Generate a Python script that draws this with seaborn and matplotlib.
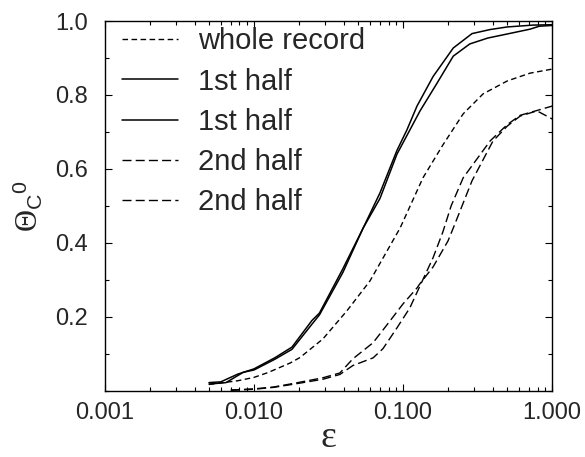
import numpy as np
import pandas as pd
import matplotlib
matplotlib.use("Agg")
import matplotlib.pyplot as plt
from matplotlib.ticker import FixedLocator, FormatStrFormatter, LogLocator, NullFormatter, MultipleLocator
import seaborn as sns

# curve values (eps on log axis, theta_C^0)
whole_eps = [0.005, 0.0078, 0.01, 0.0124, 0.0175, 0.0204, 0.029, 0.042, 0.060, 0.0955,
             0.136, 0.185, 0.253, 0.344, 0.50, 0.71, 1.0]
whole_val = [0.017, 0.027, 0.036, 0.049, 0.075, 0.090, 0.140, 0.216, 0.297, 0.440,
             0.576, 0.665, 0.749, 0.803, 0.838, 0.859, 0.870]

first_a_eps = [0.005, 0.006, 0.0078, 0.01, 0.0138, 0.018, 0.0245, 0.0275, 0.0395, 0.054,
               0.070, 0.091, 0.106, 0.124, 0.159, 0.217, 0.290, 0.384, 0.50, 0.745, 1.0]
first_a_val = [0.022, 0.024, 0.045, 0.059, 0.089, 0.118, 0.190, 0.210, 0.330, 0.440,
               0.535, 0.650, 0.705, 0.770, 0.850, 0.927, 0.966, 0.977, 0.984, 0.989, 0.990]

first_b_eps = [0.005, 0.0065, 0.0085, 0.01, 0.0138, 0.018, 0.0245, 0.0275, 0.0395, 0.054,
               0.070, 0.091, 0.106, 0.13, 0.169, 0.217, 0.28, 0.37, 0.5, 0.71, 0.82, 1.0]
first_b_val = [0.018, 0.022, 0.050, 0.056, 0.085, 0.112, 0.180, 0.205, 0.320, 0.440,
               0.520, 0.640, 0.690, 0.757, 0.832, 0.905, 0.938, 0.954, 0.965, 0.978, 0.986, 0.988]

second_a_eps = [0.007, 0.01, 0.0135, 0.018, 0.029, 0.0377, 0.046, 0.063, 0.0818, 0.1,
                0.124, 0.13, 0.159, 0.2, 0.217, 0.29, 0.40, 0.5, 0.61, 0.79, 1.0]
second_a_val = [0.002, 0.005, 0.010, 0.019, 0.035, 0.048, 0.086, 0.130, 0.189, 0.235,
                0.278, 0.290, 0.335, 0.405, 0.440, 0.568, 0.675, 0.716, 0.743, 0.757, 0.735]

second_b_eps = [0.007, 0.01, 0.0135, 0.018, 0.029, 0.0377, 0.046, 0.063, 0.0734, 0.091,
                0.111, 0.130, 0.159, 0.185, 0.21, 0.253, 0.384, 0.5, 0.61, 0.79, 1.0]
second_b_val = [0.001, 0.004, 0.009, 0.017, 0.031, 0.044, 0.068, 0.089, 0.114, 0.170,
                0.224, 0.284, 0.360, 0.430, 0.500, 0.576, 0.676, 0.720, 0.745, 0.758, 0.770]

sns.set_style("ticks")
plt.rcParams["font.family"] = ["Liberation Sans", "DejaVu Sans"]
plt.rcParams["mathtext.fontset"] = "custom"
plt.rcParams["mathtext.rm"] = "Liberation Serif"
plt.rcParams["mathtext.sf"] = "Liberation Sans"
plt.rcParams["mathtext.it"] = "Liberation Serif:italic"

fig = plt.figure(figsize=(5.85, 4.57), dpi=100)
ax = fig.add_axes([0.179, 0.145, 0.765, 0.809])

short_dash = (4, 2.5)
long_dash = (6.5, 3)
sns.lineplot(x=whole_eps, y=whole_val, ax=ax, color="black", lw=1.0, dashes=short_dash, label="whole record")
sns.lineplot(x=first_a_eps, y=first_a_val, ax=ax, color="black", lw=1.1, label="1st half")
sns.lineplot(x=first_b_eps, y=first_b_val, ax=ax, color="black", lw=1.1, label="1st half")
sns.lineplot(x=second_a_eps, y=second_a_val, ax=ax, color="black", lw=1.0, dashes=long_dash, label="2nd half")
sns.lineplot(x=second_b_eps, y=second_b_val, ax=ax, color="black", lw=1.0, dashes=long_dash, label="2nd half")

ax.set_xscale("log")
ax.set_xlim(0.001, 1.0)
ax.set_ylim(0, 1.0)
ax.xaxis.set_major_locator(FixedLocator([0.001, 0.01, 0.1, 1.0]))
ax.xaxis.set_major_formatter(FormatStrFormatter("%.3f"))
ax.xaxis.set_minor_locator(LogLocator(base=10, subs=np.arange(2, 10)))
ax.xaxis.set_minor_formatter(NullFormatter())
ax.yaxis.set_major_locator(FixedLocator([0.2, 0.4, 0.6, 0.8, 1.0]))
ax.yaxis.set_major_formatter(FormatStrFormatter("%.1f"))
ax.yaxis.set_minor_locator(MultipleLocator(0.1))

ax.tick_params(which="both", direction="in", top=True, right=True, width=0.8, color="black")
ax.tick_params(which="major", length=5)
ax.tick_params(which="minor", length=3)
ax.tick_params(axis="x", which="major", labelsize=17, pad=8)
ax.tick_params(axis="y", which="major", labelsize=17, pad=12)
for s in ax.spines.values():
    s.set_linewidth(1.0)
    s.set_color("black")

ax.set_xlabel("ε", fontsize=27, fontfamily="Liberation Serif")
ax.xaxis.set_label_coords(0.5, -0.152)
ax.xaxis.label.set_va("baseline")
ax.set_ylabel(r"$\mathrm{\Theta}_{\mathsf{C}}{}^{\mathsf{0}}$", fontsize=22)
ax.yaxis.set_label_coords(-0.17, 0.5)
ax.yaxis.label.set_va("center")

leg = ax.legend(loc="upper left", frameon=False, fontsize=21, handlelength=1.9,
                handletextpad=0.7, labelspacing=0.42, borderaxespad=0.2,
                bbox_to_anchor=(0.0, 1.03))

fig.savefig("out.png", dpi=100)
